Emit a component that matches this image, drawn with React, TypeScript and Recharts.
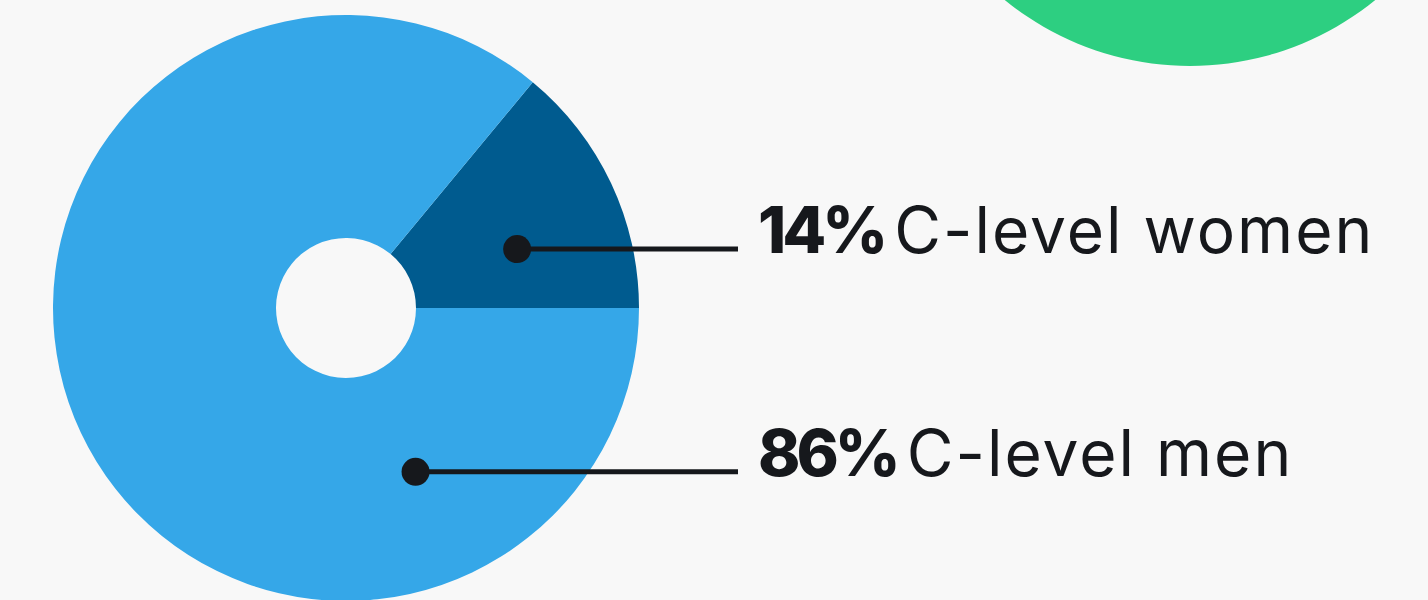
import { PieChart, Pie, Cell } from "recharts";

// share of C-level roles
const categories = ["C-level women", "C-level men"];
const shares = [14, 86];
const sliceColors = ["#005b8f", "#35a7e8"];

// decorative circle in the top-right corner
const accent = [{ name: "accent", value: 1 }];

const data = categories.map((name, i) => ({ name, value: shares[i] }));

// where each callout dot sits, relative to the pie centre (angle in degrees, distance in px)
const anchors = [
  { angle: 19, dist: 181 },
  { angle: -67, dist: 178 },
];
const LINE_END = 738;
const RAD = Math.PI / 180;

function Callout(props: any) {
  const { cx, cy, index, name, value } = props;
  const a = anchors[index];
  const x = cx + a.dist * Math.cos(a.angle * RAD);
  const y = cy - a.dist * Math.sin(a.angle * RAD);
  return (
    <g>
      <line x1={x} y1={y} x2={LINE_END} y2={y} stroke="#16181c" strokeWidth={5} />
      <circle cx={x} cy={y} r={14} fill="#16181c" />
      <text
        x={LINE_END + 20}
        y={y + 4}
        fill="#16181c"
        fontSize={64}
        fontFamily="Inter, 'Noto Sans', sans-serif"
      >
        <tspan fontWeight={800} letterSpacing={-4}>{value}%</tspan>
        <tspan dx={10} fontWeight={400} letterSpacing={2}>{name}</tspan>
      </text>
    </g>
  );
}

export default function App() {
  return (
    <div style={{ width: 1428, height: 600, background: "#f8f8f8", overflow: "hidden" }}>
      <style>{"body { margin: 0; background: #f8f8f8; }"}</style>
      <PieChart width={1428} height={600} margin={{ top: 0, right: 0, bottom: 0, left: 0 }}>
        <Pie
          data={accent}
          dataKey="value"
          cx={1190}
          cy={-227}
          outerRadius={293}
          fill="#2dcf81"
          stroke="none"
          isAnimationActive={false}
        />
        <Pie
          data={data}
          dataKey="value"
          nameKey="name"
          cx={346}
          cy={308}
          innerRadius={70}
          outerRadius={293}
          startAngle={0}
          endAngle={360}
          stroke="none"
          labelLine={false}
          label={Callout}
          isAnimationActive={false}
        >
          {data.map((d, i) => (
            <Cell key={d.name} fill={sliceColors[i]} />
          ))}
        </Pie>
      </PieChart>
    </div>
  );
}
